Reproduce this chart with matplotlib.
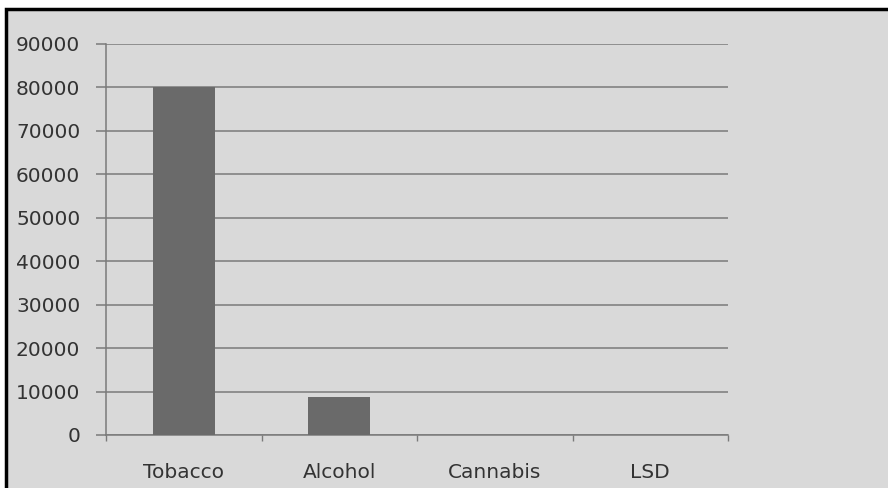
#!/usr/bin/env python3
import matplotlib.pyplot as plt
from matplotlib.patches import Rectangle
from matplotlib.ticker import FixedLocator
import numpy as np

categories = ['Tobacco', 'Alcohol', 'Cannabis', 'LSD']
values = [80000, 8700, 0, 0]
yticks = [0, 10000, 20000, 30000, 40000, 50000, 60000, 70000, 80000, 90000]

bg = '#d9d9d9'
line_col = '#7a7a7a'
text_col = '#333333'

fig = plt.figure(figsize=(8.88, 4.88), dpi=100, facecolor='white')
# grey chart area with black frame
fig.patches.append(Rectangle((6 / 888, -0.05), 1.0, 1 - 9 / 488 + 0.05,
                             transform=fig.transFigure, facecolor=bg,
                             edgecolor='black', linewidth=2.5, zorder=-1))

ax = fig.add_axes([106 / 888, 1 - 435 / 488, 622 / 888, (435 - 44) / 488])
ax.set_zorder(1)
ax.patch.set_alpha(0)

x = np.arange(len(categories))
ax.bar(x, values, width=0.4, color='#6a6a6a', zorder=3)

ax.set_xlim(-0.5, len(categories) - 0.5)
ax.set_ylim(0, 90000)
ax.set_yticks(yticks)
ax.set_yticklabels([str(v) for v in yticks])
ax.yaxis.grid(True, color=line_col, linewidth=1.1)
ax.set_axisbelow(True)

ax.set_xticks(x)
ax.set_xticklabels(categories)
ax.xaxis.set_minor_locator(FixedLocator(np.arange(-0.5, len(categories), 1)))
ax.tick_params(axis='x', which='major', length=0, pad=20,
               labelsize=14.5, labelcolor=text_col)
ax.tick_params(axis='x', which='minor', length=4.3, color=line_col, width=1)
ax.tick_params(axis='y', length=7, color=line_col, width=1.1, pad=11.5,
               labelsize=14.5, labelcolor=text_col)

for s in ['top', 'right']:
    ax.spines[s].set_visible(False)
for s in ['left', 'bottom']:
    ax.spines[s].set_color(line_col)
    ax.spines[s].set_linewidth(1.1)

fig.savefig('out.png', dpi=100, facecolor='white')
